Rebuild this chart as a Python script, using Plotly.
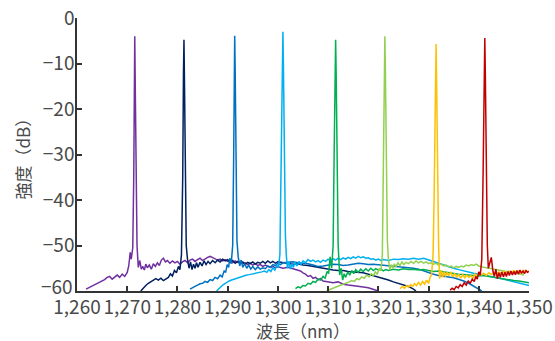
import plotly.graph_objects as go

# ---------------- data ----------------
purple_x = [1261.8, 1262.5, 1263, 1263.5, 1264, 1264.5, 1265, 1265.5, 1266, 1266.5, 1267, 1267.5, 1268, 1268.5, 1269, 1269.5, 1270, 1270.3, 1270.6, 1270.8, 1271.1, 1271.3, 1271.45, 1271.5, 1271.6, 1271.75, 1271.95, 1272.2, 1272.5, 1272.8, 1273.1, 1273.4, 1273.7, 1274, 1274.4, 1274.8, 1275.2, 1275.6, 1276, 1276.4, 1276.8, 1277.2, 1277.6, 1278, 1278.5, 1279, 1279.5, 1280, 1280.5, 1281, 1281.5, 1282, 1282.5, 1283, 1283.5, 1284, 1284.5, 1285, 1285.5, 1286, 1286.5, 1287, 1287.5, 1288, 1288.5, 1289, 1289.5, 1290, 1290.5, 1291, 1291.5, 1292, 1292.5, 1293, 1293.5, 1294, 1294.5, 1295, 1295.5, 1296, 1296.5, 1297, 1297.5, 1298, 1298.5, 1299, 1299.5, 1300, 1301, 1302, 1303, 1304, 1304.5, 1305, 1305.5, 1306, 1306.5, 1307, 1307.5, 1308, 1308.5, 1309, 1310, 1311, 1312, 1313, 1314, 1315, 1316, 1317, 1318, 1319, 1320]
purple_y = [-59.6, -59.2, -58.9, -58.6, -58.3, -58.2, -57.8, -57.5, -57.0, -56.8, -57.4, -56.9, -56.5, -57.0, -56.3, -56.8, -55.9, -54.5, -51.5, -53.0, -50.5, -35, -12, -4.0, -15, -38, -50, -54.8, -53.3, -55.2, -54.6, -55.4, -54.1, -54.9, -54.3, -55.2, -54.0, -54.6, -53.8, -54.4, -53.2, -52.8, -53.6, -53.3, -53.9, -53.4, -53.8, -53.5, -54.1, -53.6, -53.3, -53.8, -53.2, -53.0, -53.5, -53.1, -52.8, -53.3, -52.9, -52.6, -52.4, -52.7, -52.9, -53.2, -53.0, -53.4, -53.1, -53.5, -53.3, -53.8, -53.4, -53.7, -53.5, -54.0, -53.8, -54.2, -53.9, -54.3, -54.0, -54.4, -54.2, -54.6, -54.3, -54.5, -54.8, -54.6, -54.9, -54.7, -55.0, -54.8, -55.1, -55.3, -55.6, -56.0, -56.3, -56.8, -56.6, -57.2, -57.0, -57.5, -57.3, -57.8, -58.0, -58.2, -58.0, -58.5, -58.7, -58.8, -59.0, -59.1, -59.3, -59.6, -60.0]

navy_x = [1272.7, 1273.2, 1273.7, 1274.2, 1274.7, 1275.2, 1275.7, 1276.2, 1276.7, 1277.2, 1277.7, 1278.2, 1278.6, 1279, 1279.4, 1279.8, 1280.2, 1280.5, 1280.8, 1281.05, 1281.2, 1281.3, 1281.4, 1281.55, 1281.75, 1282, 1282.3, 1282.6, 1282.9, 1283.2, 1283.5, 1283.8, 1284.1, 1284.5, 1284.9, 1285.3, 1285.7, 1286.1, 1286.5, 1287, 1287.5, 1288, 1288.5, 1289, 1289.5, 1290, 1290.5, 1291, 1291.5, 1292, 1292.5, 1293, 1293.5, 1294, 1294.5, 1295, 1295.5, 1296, 1296.5, 1297, 1297.5, 1298, 1298.5, 1299, 1299.5, 1300, 1301, 1302, 1303, 1304, 1305, 1306, 1307, 1308, 1309, 1310, 1311, 1312, 1313, 1314, 1315, 1316, 1317, 1318, 1319, 1320, 1321, 1322, 1323, 1324, 1325, 1326, 1327, 1327.5]
navy_y = [-60.0, -59.3, -58.8, -58.3, -57.9, -57.5, -57.3, -57.6, -57.2, -57.7, -57.4, -57.0, -56.2, -56.7, -55.5, -56.0, -54.6, -55.3, -52.0, -35, -12, -4.8, -14, -38, -50, -53.0, -55.0, -53.6, -55.3, -54.1, -55.0, -53.8, -54.8, -53.7, -54.5, -53.4, -54.2, -53.5, -54.0, -53.3, -53.8, -53.2, -53.6, -53.0, -53.4, -53.1, -53.7, -53.3, -53.9, -53.5, -54.0, -53.6, -54.1, -53.7, -54.0, -53.6, -54.1, -53.7, -53.9, -53.5, -53.9, -53.4, -53.8, -53.5, -53.9, -53.6, -53.8, -53.9, -54.1, -54.0, -54.3, -54.4, -54.6, -54.9, -55.1, -55.3, -55.4, -55.5, -55.5, -55.7, -55.8, -55.9, -56.0, -56.3, -56.6, -57.0, -57.3, -57.6, -58.0, -58.3, -58.6, -59.0, -59.6, -60.0]

blue_x = [1282.5, 1283, 1283.5, 1284, 1284.5, 1285, 1285.5, 1286, 1286.5, 1287, 1287.5, 1288, 1288.5, 1288.9, 1289.3, 1289.6, 1289.9, 1290.2, 1290.4, 1290.7, 1291.0, 1291.2, 1291.35, 1291.4, 1291.5, 1291.65, 1291.85, 1292.1, 1292.4, 1292.7, 1293, 1293.4, 1293.8, 1294.2, 1294.6, 1295, 1295.5, 1296, 1296.5, 1297, 1297.5, 1298, 1298.5, 1299, 1299.5, 1300, 1300.5, 1301, 1302, 1303, 1304, 1305, 1306, 1307, 1308, 1309, 1310, 1311, 1312, 1313, 1314, 1315, 1316, 1317, 1318, 1319, 1320, 1321, 1322, 1323, 1324, 1325, 1326, 1327, 1328, 1329, 1330, 1331, 1332, 1333, 1334, 1335, 1336, 1337, 1338, 1339, 1340, 1340.6]
blue_y = [-59.6, -59.2, -59.0, -58.7, -58.4, -58.3, -57.9, -58.1, -57.5, -57.7, -57.0, -57.3, -56.5, -56.9, -55.6, -55.9, -54.2, -54.8, -52.8, -54.0, -50.0, -30, -10, -3.9, -12, -35, -49, -52.5, -54.5, -53.2, -54.8, -54.0, -55.0, -54.3, -55.2, -54.6, -55.3, -54.7, -55.2, -54.9, -55.1, -54.5, -54.8, -54.2, -54.4, -53.9, -54.2, -53.8, -53.7, -53.6, -53.8, -53.9, -54.0, -54.3, -54.6, -54.5, -54.3, -54.1, -54.2, -54.4, -54.3, -54.1, -53.9, -54.0, -54.2, -54.1, -54.2, -54.4, -54.5, -54.6, -54.7, -54.8, -54.9, -55.0, -55.2, -55.6, -55.9, -56.3, -56.6, -56.7, -56.9, -57.1, -57.4, -57.8, -58.3, -58.9, -59.5, -60.0]

lightblue_x = [1287.8, 1288.3, 1288.8, 1289.3, 1289.8, 1290.3, 1290.8, 1291.3, 1291.8, 1292.3, 1292.8, 1293.3, 1293.8, 1294.3, 1294.8, 1295.3, 1295.8, 1296.3, 1296.8, 1297.3, 1297.8, 1298.2, 1298.6, 1299, 1299.4, 1299.8, 1300.1, 1300.4, 1300.7, 1300.9, 1301.0, 1301.1, 1301.3, 1301.5, 1301.7, 1301.9, 1302.2, 1302.5, 1302.8, 1303.1, 1303.4, 1303.8, 1304.2, 1304.6, 1305, 1305.5, 1306, 1306.5, 1307, 1307.5, 1308, 1308.5, 1309, 1309.5, 1310, 1310.5, 1311, 1311.5, 1312, 1312.5, 1313, 1313.5, 1314, 1314.5, 1315, 1315.5, 1316, 1316.5, 1317, 1317.5, 1318, 1318.5, 1319, 1319.5, 1320, 1320.5, 1321, 1322, 1323, 1324, 1325, 1326, 1327, 1328, 1329, 1330, 1331, 1332, 1333, 1334, 1335, 1336, 1337, 1338, 1339, 1340, 1341, 1342, 1343, 1344, 1345, 1346, 1347, 1348, 1349, 1350]
lightblue_y = [-60.0, -59.4, -58.9, -58.5, -58.1, -57.8, -57.6, -57.4, -57.2, -57.0, -56.9, -56.7, -56.5, -56.4, -56.3, -56.1, -56.0, -55.9, -55.8, -55.6, -55.9, -55.3, -55.7, -54.9, -55.4, -54.3, -54.9, -52.0, -30, -10, -3.0, -10, -32, -48, -52.5, -55.0, -53.5, -55.2, -54.0, -54.8, -53.7, -54.5, -53.5, -54.2, -53.4, -53.8, -53.1, -53.5, -53.2, -53.6, -53.3, -53.7, -53.2, -53.5, -53.0, -53.4, -52.9, -53.2, -52.8, -53.1, -52.7, -53.0, -52.6, -52.9, -52.5, -52.8, -52.4, -52.7, -52.5, -52.8, -52.7, -53.0, -52.9, -53.2, -53.0, -53.3, -53.1, -53.3, -53.0, -53.1, -52.9, -53.0, -52.8, -53.0, -52.8, -53.1, -53.5, -53.9, -54.3, -54.7, -55.0, -55.3, -55.6, -55.8, -56.1, -56.3, -56.5, -56.7, -56.9, -57.1, -57.4, -57.7, -58.0, -58.3, -58.6, -58.8]

green_x = [1303.5, 1304, 1304.5, 1305, 1305.5, 1306, 1306.5, 1307, 1307.5, 1308, 1308.5, 1309, 1309.4, 1309.8, 1310.1, 1310.4, 1310.7, 1311.0, 1311.2, 1311.4, 1311.5, 1311.6, 1311.8, 1312.0, 1312.3, 1312.6, 1312.9, 1313.2, 1313.5, 1313.9, 1314.3, 1314.7, 1315.1, 1315.5, 1316, 1316.5, 1317, 1317.5, 1318, 1318.5, 1319, 1319.5, 1320, 1320.5, 1321, 1321.5, 1322, 1323, 1324, 1325, 1326, 1327, 1328, 1329, 1330, 1331, 1332, 1333, 1334, 1335, 1336, 1337, 1338, 1339, 1340, 1341, 1342, 1343, 1344, 1345, 1346, 1347, 1348, 1349, 1350]
green_y = [-59.5, -59.1, -59.3, -58.8, -58.9, -58.3, -58.5, -57.9, -58.1, -57.4, -57.6, -56.8, -57.2, -55.7, -56.2, -52.5, -55.0, -50.0, -30, -10, -4.8, -12, -35, -50, -56.5, -55.0, -57.6, -56.2, -57.0, -55.8, -56.5, -55.5, -56.2, -55.3, -55.9, -55.2, -55.7, -55.1, -55.6, -55.0, -55.5, -55.1, -55.4, -55.2, -55.6, -55.3, -55.5, -55.2, -55.4, -55.1, -55.3, -55.2, -55.4, -55.3, -55.5, -55.7, -55.6, -55.8, -55.9, -56.1, -56.3, -56.4, -56.5, -56.6, -56.7, -56.6, -56.8, -57.0, -57.2, -57.3, -57.5, -57.7, -57.8, -58.0, -58.2]

lightgreen_x = [1309.7, 1310.2, 1310.7, 1311.2, 1311.7, 1312.2, 1312.7, 1313.2, 1313.7, 1314.2, 1314.7, 1315.2, 1315.7, 1316.2, 1316.7, 1317.2, 1317.7, 1318.2, 1318.6, 1319, 1319.4, 1319.8, 1320.2, 1320.5, 1320.8, 1321.05, 1321.2, 1321.3, 1321.4, 1321.6, 1321.8, 1322.0, 1322.3, 1322.6, 1322.9, 1323.2, 1323.5, 1323.9, 1324.3, 1324.7, 1325.1, 1325.5, 1326, 1326.5, 1327, 1327.5, 1328, 1328.5, 1329, 1329.5, 1330, 1330.5, 1331, 1331.5, 1332, 1332.5, 1333, 1333.5, 1334, 1334.5, 1335, 1335.5, 1336, 1336.5, 1337, 1337.5, 1338, 1338.5, 1339, 1339.5, 1340, 1341, 1342, 1343, 1344, 1345, 1346, 1347, 1348, 1349]
lightgreen_y = [-60.0, -59.7, -59.5, -59.3, -59.1, -58.9, -58.6, -58.4, -58.2, -58.0, -57.7, -57.9, -57.3, -57.5, -56.9, -57.2, -56.5, -56.9, -56.2, -56.6, -55.8, -56.3, -55.0, -55.6, -52.0, -30, -10, -4.0, -11, -33, -49, -53.0, -55.3, -54.2, -55.0, -54.0, -54.7, -53.8, -54.4, -53.6, -54.2, -53.7, -54.0, -53.5, -53.9, -53.4, -53.8, -53.5, -53.9, -53.6, -54.0, -53.8, -54.1, -53.9, -54.3, -54.1, -54.5, -54.3, -54.7, -54.5, -54.9, -54.6, -54.8, -54.5, -54.7, -54.3, -54.5, -54.2, -54.4, -54.1, -54.5, -54.8, -55.0, -55.3, -55.5, -55.6, -55.8, -55.9, -56.2, -56.5]

yellow_x = [1324.3, 1324.8, 1325.2, 1325.6, 1326, 1326.4, 1326.8, 1327.2, 1327.6, 1328, 1328.4, 1328.8, 1329.2, 1329.6, 1330, 1330.3, 1330.6, 1330.9, 1331.1, 1331.3, 1331.5, 1331.6, 1331.8, 1332.0, 1332.2, 1332.5, 1332.8, 1333.1, 1333.4, 1333.7, 1334, 1334.4, 1334.8, 1335.2, 1335.6, 1336, 1336.4, 1336.8, 1337.2, 1337.6, 1338, 1338.4, 1338.8, 1339.2, 1339.6, 1340, 1340.5, 1341, 1341.5, 1342, 1342.5, 1343, 1343.5, 1344, 1344.5, 1345, 1345.5, 1346, 1346.5, 1347, 1347.5, 1348, 1348.5, 1349, 1349.5, 1350]
yellow_y = [-59.5, -59.0, -59.4, -58.8, -59.2, -58.6, -59.0, -58.4, -58.8, -58.1, -58.7, -57.9, -58.5, -57.6, -58.3, -57.0, -56.5, -52.0, -40, -15, -5.7, -14, -35, -50, -57.3, -55.5, -57.0, -55.7, -56.8, -55.9, -56.6, -55.8, -56.9, -56.1, -57.0, -56.3, -57.2, -56.4, -57.1, -56.5, -57.0, -56.6, -57.2, -56.3, -56.8, -56.0, -56.5, -56.1, -56.6, -56.0, -56.4, -55.9, -56.3, -55.8, -56.2, -55.7, -56.1, -55.6, -56.0, -55.5, -55.9, -55.6, -56.0, -55.5, -55.8, -55.6]

red_x = [1334.3, 1334.7, 1335.1, 1335.5, 1335.9, 1336.3, 1336.7, 1337.1, 1337.5, 1337.9, 1338.3, 1338.7, 1339.1, 1339.4, 1339.7, 1340.0, 1340.3, 1340.6, 1340.85, 1341.05, 1341.2, 1341.3, 1341.5, 1341.7, 1341.9, 1342.2, 1342.5, 1342.8, 1343.1, 1343.4, 1343.7, 1344.0, 1344.3, 1344.6, 1344.9, 1345.2, 1345.5, 1345.8, 1346.1, 1346.4, 1346.7, 1347, 1347.3, 1347.6, 1347.9, 1348.2, 1348.5, 1348.8, 1349.1, 1349.4, 1349.7, 1350]
red_y = [-59.8, -59.4, -59.7, -59.0, -59.3, -58.6, -59.0, -58.2, -58.7, -57.8, -58.3, -57.4, -57.9, -56.8, -57.4, -55.8, -56.5, -53.0, -35, -12, -4.4, -12, -35, -50, -55.0, -53.5, -52.6, -55.5, -56.8, -55.2, -57.3, -56.0, -57.0, -55.8, -56.9, -55.9, -56.8, -55.7, -56.6, -55.6, -56.5, -55.7, -56.4, -55.5, -56.3, -55.4, -56.1, -55.6, -56.2, -55.5, -55.9, -55.7]

x_tick_vals = [1260, 1270, 1280, 1290, 1300, 1310, 1320, 1330, 1340, 1350]
x_tick_text = ["1,260", "1,270", "1,280", "1,290", "1,300", "1,310", "1,320", "1,330", "1,340", "1,350"]
y_tick_vals = [0, -10, -20, -30, -40, -50, -60]
y_tick_text = ["0", "−10", "−20", "−30", "−40", "−50", ""]
y_bottom_label = "−60"
x_title = "波長（nm）"
y_title = "強度（dB）"

series = [
    (purple_x, purple_y, "#7030A0"),
    (navy_x, navy_y, "#002060"),
    (blue_x, blue_y, "#0070C0"),
    (lightblue_x, lightblue_y, "#00B0F0"),
    (green_x, green_y, "#00B050"),
    (lightgreen_x, lightgreen_y, "#92D050"),
    (yellow_x, yellow_y, "#FFC000"),
    (red_x, red_y, "#C00000"),
]

fig = go.Figure()
for xs, ys, col in series:
    fig.add_trace(go.Scatter(x=xs, y=ys, mode="lines",
                             line=dict(color=col, width=1.5),
                             showlegend=False, hoverinfo="skip"))

font_family = "Noto Sans CJK JP, Noto Sans, sans-serif"
text_col = "#4a4a4a"
fig.update_layout(
    width=555, height=341,
    margin=dict(l=77, r=26, t=18, b=50, autoexpand=False),
    paper_bgcolor="white", plot_bgcolor="white",
    font=dict(family=font_family, size=19, color=text_col),
)
fig.update_xaxes(
    range=[1260, 1350], tickvals=x_tick_vals, ticktext=x_tick_text,
    showline=True, linecolor="#333333", linewidth=1.5,
    ticks="inside", ticklen=5, tickwidth=1.5, tickcolor="#333333",
    showgrid=False, zeroline=False, automargin=False,
    tickfont=dict(size=19, color=text_col), ticklabelstandoff=-2,
)
fig.update_yaxes(
    range=[-60, 0], tickvals=y_tick_vals, ticktext=y_tick_text,
    showline=True, linecolor="#333333", linewidth=1.5,
    ticks="inside", ticklen=5, tickwidth=1.5, tickcolor="#333333",
    showgrid=False, zeroline=False, automargin=False,
    tickfont=dict(size=19, color=text_col), ticklabelstandoff=-3,
)
fig.add_annotation(text=y_bottom_label, xref="paper", yref="y", x=0, y=y_tick_vals[-1],
                   xanchor="right", yanchor="middle", xshift=-2, yshift=6,
                   showarrow=False, font=dict(size=19, color=text_col))
fig.add_annotation(text=x_title, xref="paper", yref="paper", x=0.5, y=0,
                   xanchor="center", yanchor="middle", yshift=-39,
                   showarrow=False, font=dict(size=17, color=text_col))
fig.add_annotation(text=y_title, xref="paper", yref="paper", x=0, y=0.5,
                   xanchor="center", yanchor="middle", xshift=-55, textangle=-90,
                   showarrow=False, font=dict(size=17, color=text_col))

fig.write_html("out.html", config={"displayModeBar": False},
               post_script="document.body.style.margin='0';document.body.style.padding='0';")
